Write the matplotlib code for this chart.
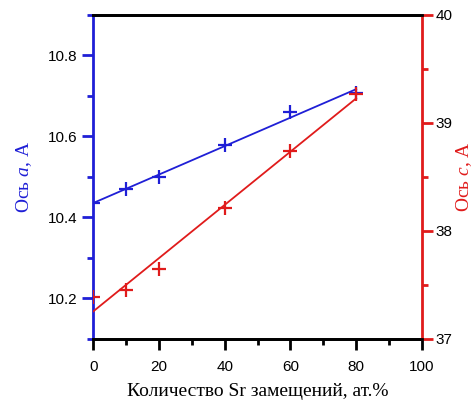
#!/usr/bin/env python3
"""Lattice parameters a and c vs. Sr substitution, twin y-axes."""
import matplotlib
matplotlib.use("Agg")
import matplotlib.pyplot as plt
import numpy as np
from matplotlib.ticker import MultipleLocator

# Sr content, at.%
sr_content = [0, 10, 20, 40, 60, 80]
# lattice parameter a (left axis)
axis_a = [10.435, 10.47, 10.50, 10.58, 10.66, 10.706]
# lattice parameter c (right axis)
axis_c = [37.39, 37.45, 37.645, 38.21, 38.74, 39.27]

BLUE = "#1f1fd6"
RED = "#e01b1b"
SERIF = ["Liberation Serif", "DejaVu Serif"]
SANS = ["Liberation Sans", "DejaVu Sans"]

plt.rcParams["font.family"] = SANS
plt.rcParams["mathtext.fontset"] = "custom"
plt.rcParams["mathtext.it"] = "Liberation Serif:italic"
plt.rcParams["mathtext.rm"] = "Liberation Serif"

fig = plt.figure(figsize=(4.73, 4.03), dpi=100)
ax = fig.add_axes([0.197, 0.159, 0.695, 0.804])
ax2 = ax.twinx()

x = np.array(sr_content, dtype=float)
xx = np.array([0, 80], dtype=float)

# linear fits drawn under the measured points
ka, ba = np.polyfit(x, axis_a, 1)
kc, bc = np.polyfit(x, axis_c, 1)
ax.plot(xx, ka * xx + ba, color=BLUE, lw=1.3, zorder=3)
ax.plot(x, axis_a, ls="none", marker="+", ms=10, mew=1.6, color=BLUE, zorder=4)
ax2.plot(xx, kc * xx + bc, color=RED, lw=1.3, zorder=3)
ax2.plot(x, axis_c, ls="none", marker="+", ms=10, mew=1.6, color=RED, zorder=4)

ax.set_xlim(0, 100)
ax.set_ylim(10.1, 10.9)
ax2.set_ylim(37, 40)

ax.xaxis.set_major_locator(MultipleLocator(20))
ax.xaxis.set_minor_locator(MultipleLocator(10))
ax.yaxis.set_major_locator(MultipleLocator(0.2))
ax.yaxis.set_minor_locator(MultipleLocator(0.1))
ax2.yaxis.set_major_locator(MultipleLocator(1))
ax2.yaxis.set_minor_locator(MultipleLocator(0.5))
ax.yaxis.set_major_formatter(plt.FormatStrFormatter("%.1f"))
ax2.yaxis.set_major_formatter(plt.FormatStrFormatter("%d"))

for a in (ax, ax2):
    for s in a.spines.values():
        s.set_linewidth(2)
        s.set_color("black")
ax.spines["left"].set_color(BLUE)
ax2.spines["left"].set_visible(False)
ax2.spines["right"].set_color(RED)
ax.spines["right"].set_visible(False)

ax.tick_params(axis="x", which="major", direction="out", length=8, width=2,
               labelsize=11, pad=7, colors="black")
ax.tick_params(axis="x", which="minor", direction="out", length=4.5, width=2)
ax.tick_params(axis="y", which="major", direction="out", length=8, width=2,
               color=BLUE, labelcolor="black", labelsize=11, pad=3)
ax.tick_params(axis="y", which="minor", direction="out", length=4.5, width=2, color=BLUE)
ax2.tick_params(axis="y", which="major", direction="out", length=8, width=2,
                color=RED, labelcolor="black", labelsize=11, pad=2)
ax2.tick_params(axis="y", which="minor", direction="out", length=4.5, width=2, color=RED)

ax.set_xlabel("Количество Sr замещений, ат.%", family=SERIF, fontsize=14, labelpad=7)
ax.set_ylabel("Ось $\\mathit{a}$, A", family=SERIF, fontsize=14, color=BLUE, labelpad=10)
ax2.set_ylabel("Ось $\\mathit{c}$, A", family=SERIF, fontsize=14, color=RED, labelpad=1)

fig.savefig("out.png", dpi=100)
